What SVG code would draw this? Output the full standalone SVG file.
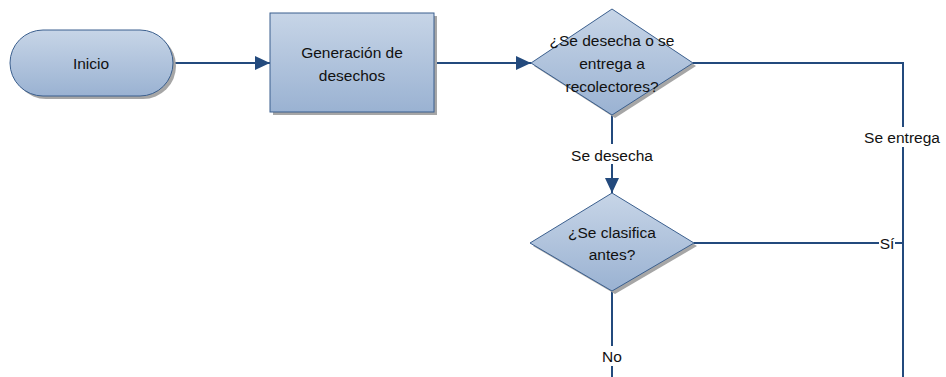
<svg xmlns="http://www.w3.org/2000/svg" width="946" height="377" viewBox="0 0 946 377">
<defs>
<linearGradient id="g" x1="0" y1="0" x2="0" y2="1">
<stop offset="0" stop-color="#c7d5e7"/>
<stop offset="1" stop-color="#9ab2d2"/>
</linearGradient>
<marker id="arr" markerWidth="15" markerHeight="14" refX="15" refY="7" orient="auto" markerUnits="userSpaceOnUse" viewBox="0 0 15 14">
<path d="M0,0 L15,7 L0,14 z" fill="#234a7d"/>
</marker>
<style>
.shape{fill:url(#g);stroke:#3b5f8e;stroke-width:1}
.shadow{fill:#a6a6a6}
.t{font-family:"Liberation Sans",Arial,sans-serif;font-size:15.5px;fill:#111;text-anchor:middle;dominant-baseline:central}
.c{fill:none;stroke:#234a7d;stroke-width:2}
.lb{fill:#fff}
</style>
</defs>
<rect width="946" height="377" fill="#fff"/>
<g id="connectors">
<line class="c" x1="173" y1="63" x2="270" y2="63" marker-end="url(#arr)"/>
<line class="c" x1="434" y1="63" x2="531" y2="63" marker-end="url(#arr)"/>
<polyline class="c" points="693,63 903,63 903,377"/>
<line class="c" x1="612" y1="115" x2="612" y2="193" marker-end="url(#arr)"/>
<line class="c" x1="694" y1="243" x2="903" y2="243"/>
<line class="c" x1="612" y1="291" x2="612" y2="377"/>
<rect class="lb" x="861" y="127" width="84" height="20"/>
<text class="t" x="902" y="137">Se entrega</text>
<rect class="lb" x="568" y="144" width="88" height="20"/>
<text class="t" x="612" y="155">Se desecha</text>
<rect class="lb" x="879" y="233" width="16" height="20"/>
<text class="t" x="887" y="243">Sí</text>
<rect class="lb" x="599" y="346" width="26" height="20"/>
<text class="t" x="612" y="356">No</text>
</g>
<g id="inicio">
<rect class="shadow" x="13" y="33" width="163" height="66" rx="33"/>
<rect class="shape" x="10" y="30" width="163" height="66" rx="33"/>
<text class="t" x="91" y="63">Inicio</text>
</g>
<g id="generacion">
<rect class="shadow" x="273" y="16" width="164" height="99"/>
<rect class="shape" x="270" y="13" width="164" height="99"/>
<text class="t" x="352" y="52">Generación de</text>
<text class="t" x="352" y="75">desechos</text>
</g>
<g id="decision1">
<polygon class="shadow" points="615,12 696,66 615,118 534,66"/>
<polygon class="shape" points="612,9 693,63 612,115 531,63"/>
<text class="t" x="612" y="40">¿Se desecha o se</text>
<text class="t" x="612" y="63">entrega a</text>
<text class="t" x="612" y="86">recolectores?</text>
</g>
<g id="decision2">
<polygon class="shadow" points="615,196 697,246 615,294 533,246"/>
<polygon class="shape" points="612,193 694,243 612,291 530,243"/>
<text class="t" x="612" y="232">¿Se clasifica</text>
<text class="t" x="612" y="254">antes?</text>
</g>
</svg>
